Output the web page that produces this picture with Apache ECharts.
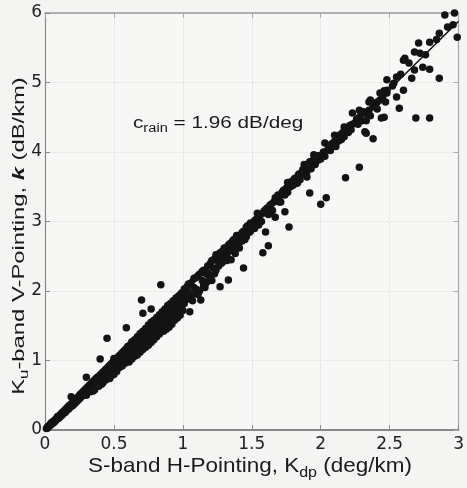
<!DOCTYPE html>
<html>
<head>
<meta charset="utf-8">
<script src="https://cdn.jsdelivr.net/npm/echarts@6/dist/echarts.min.js"></script>
<style>
html,body{margin:0;padding:0;background:#f4f4f2;}
#chart{width:467px;height:488px;}
</style>
</head>
<body>
<div id="chart"></div>
<script>
// Tick labels
const xTicks = [0, 0.5, 1, 1.5, 2, 2.5, 3];
const yTicks = [0, 1, 2, 3, 4, 5, 6];

// Fitted line endpoints (c_rain = 1.96 dB/deg)
const fitKdp = [0, 3];
const fitK = [0, 5.88];

// Scatter points [Kdp, k]
const pointsA = [
[0.01,0.02],[0.02,0.03],[0.02,0.05],[0.03,0.06],[0.04,0.07],[0.04,0.09],[0.05,0.09],[0.05,0.11],
[0.06,0.12],[0.06,0.10],[0.07,0.14],[0.07,0.12],[0.08,0.16],[0.08,0.14],[0.09,0.17],[0.09,0.19],
[0.10,0.20],[0.10,0.17],[0.11,0.22],[0.11,0.19],[0.12,0.24],[0.12,0.21],[0.13,0.26],[0.13,0.23],
[0.14,0.28],[0.14,0.25],[0.15,0.30],[0.15,0.26],[0.16,0.32],[0.16,0.29],[0.17,0.34],[0.17,0.30],
[0.18,0.36],[0.18,0.32],[0.19,0.37],[0.19,0.48],[0.20,0.40],[0.20,0.35],[0.21,0.42],[0.21,0.37],
[0.22,0.44],[0.22,0.39],[0.23,0.46],[0.23,0.41],[0.24,0.47],[0.24,0.43],[0.25,0.50],[0.25,0.45]
];
const pointsB = [
[0.26,0.52],[0.26,0.47],[0.27,0.54],[0.27,0.49],[0.28,0.56],[0.28,0.50],[0.29,0.58],[0.29,0.52],
[0.30,0.60],[0.30,0.54],[0.30,0.76],[0.30,0.50],[0.31,0.62],[0.31,0.56],[0.32,0.64],[0.32,0.58],
[0.33,0.66],[0.33,0.59],[0.33,0.55],[0.34,0.68],[0.34,0.61],[0.35,0.70],[0.35,0.63],[0.35,0.56],
[0.36,0.72],[0.36,0.65],[0.36,0.58],[0.37,0.74],[0.37,0.66],[0.38,0.76],[0.38,0.69],[0.39,0.77],
[0.39,0.70],[0.39,0.63],[0.40,0.79],[0.40,0.72],[0.40,1.02],[0.41,0.81],[0.41,0.74],[0.41,0.66],
[0.42,0.83],[0.42,0.75],[0.42,0.68],[0.43,0.85],[0.43,0.77],[0.44,0.87],[0.44,0.79],[0.44,0.72],
[0.45,0.89],[0.45,0.81],[0.45,1.32],[0.46,0.91],[0.46,0.83],[0.46,0.76],[0.47,0.93],[0.47,0.84],
[0.47,0.74],[0.48,0.95],[0.48,0.86],[0.48,0.78],[0.49,0.97],[0.49,0.88],[0.50,0.99],[0.50,0.90],
[0.50,0.80],[0.50,1.03]
];
const pointsC = [
[0.51,1.01],[0.51,0.93],[0.52,1.03],[0.52,0.95],[0.52,0.84],[0.53,1.05],[0.53,0.97],[0.54,1.07],
[0.54,0.90],[0.55,1.09],[0.55,1.00],[0.56,1.11],[0.56,0.92],[0.57,1.13],[0.57,1.04],[0.58,1.15],
[0.58,0.96],[0.59,1.17],[0.59,1.08],[0.59,1.47],[0.60,1.20],[0.60,1.01],[0.61,1.12],[0.61,0.98],
[0.62,1.23],[0.62,1.07],[0.63,1.27],[0.63,1.02],[0.64,1.18],[0.64,1.11],[0.65,1.30],[0.65,1.06],
[0.66,1.24],[0.66,1.14],[0.67,1.34],[0.67,1.08],[0.68,1.28],[0.68,1.18],[0.69,1.39],[0.69,1.12],
[0.70,1.31],[0.70,1.87],[0.70,1.22],[0.71,1.42],[0.71,1.68],[0.71,1.16],[0.72,1.34],[0.72,1.26],
[0.73,1.46],[0.73,1.19],[0.74,1.38],[0.74,1.29],[0.75,1.51],[0.75,1.22],[0.76,1.42],[0.76,1.33],
[0.77,1.55],[0.77,1.74],[0.77,1.26],[0.78,1.45],[0.78,1.36],[0.79,1.58],[0.79,1.30],[0.80,1.49],
[0.80,1.40],[0.81,1.62],[0.81,1.34],[0.82,1.53],[0.82,1.44],[0.83,1.66],[0.83,1.38],[0.84,2.09],
[0.84,1.57],[0.85,1.70],[0.85,1.48],[0.86,1.61],[0.86,1.42],[0.87,1.74],[0.87,1.52],[0.88,1.65],
[0.88,1.45],[0.89,1.79],[0.89,1.56],[0.90,1.69],[0.90,1.48],[0.91,1.82],[0.91,1.60],[0.92,1.73],
[0.92,1.52],[0.93,1.86],[0.93,1.64],[0.94,1.77],[0.94,1.58],[0.95,1.90],[0.95,1.68],[0.96,1.80],
[0.96,1.61],[0.97,1.93],[0.97,1.71],[0.98,1.85],[0.98,1.65],[0.99,1.97],[0.99,1.76],[1.00,1.89],
[1.00,1.72]
];
const pointsD = [
[1.01,2.03],[1.02,1.91],[1.03,2.06],[1.04,1.98],[1.05,1.70],[1.06,2.12],[1.07,1.86],[1.08,2.05],
[1.09,2.19],[1.10,2.02],[1.11,1.95],[1.12,2.24],[1.13,1.87],[1.14,2.15],[1.15,2.30],[1.16,2.05],
[1.17,2.25],[1.18,2.36],[1.19,2.20],[1.20,2.40],[1.21,2.15],[1.22,2.33],[1.23,2.46],[1.24,2.30],
[1.25,2.44],[1.26,2.52],[1.27,2.06],[1.28,2.40],[1.29,2.58],[1.30,2.48],[1.31,2.62],[1.32,2.52],
[1.33,2.16],[1.34,2.68],[1.35,2.45],[1.36,2.60],[1.37,2.74],[1.38,2.64],[1.40,2.80],[1.41,2.70],
[1.42,2.78],[1.44,2.33],[1.44,2.86],[1.45,2.74],[1.47,2.94],[1.48,2.84],[1.49,2.98],[1.50,2.90],
[1.01,1.82],[1.03,1.88],[1.04,2.10],[1.06,1.92],[1.08,2.18],[1.09,1.96],[1.11,2.22],[1.12,2.00],
[1.14,2.28],[1.15,2.08],[1.17,2.12],[1.18,2.26],[1.20,2.18],[1.21,2.44],[1.23,2.25],[1.24,2.52],
[1.26,2.36],[1.27,2.55],[1.29,2.42],[1.30,2.62],[1.32,2.44],[1.33,2.66],[1.35,2.58],[1.36,2.72],
[1.38,2.54],[1.39,2.80],[1.41,2.62],[1.43,2.84],[1.43,2.72],[1.46,2.78],[1.46,2.92],[1.49,2.86]
];
const pointsE = [
[1.51,2.98],[1.52,3.01],[1.52,2.90],[1.53,3.03],[1.54,3.12],[1.55,3.05],[1.55,2.95],[1.56,3.09],
[1.57,3.00],[1.58,3.12],[1.58,2.55],[1.59,3.15],[1.60,3.17],[1.60,2.85],[1.61,3.19],[1.62,3.10],
[1.62,2.65],[1.63,3.23],[1.63,3.12],[1.64,3.25],[1.65,3.16],[1.66,3.28],[1.67,3.34],[1.67,3.06],
[1.68,3.30],[1.69,3.38],[1.70,3.36],[1.70,3.28],[1.71,3.28],[1.72,3.42],[1.73,3.45],[1.74,3.14],
[1.74,3.38],[1.75,3.48],[1.76,3.42],[1.76,3.56],[1.77,2.92],[1.77,3.54],[1.78,3.50],[1.79,3.58],
[1.80,3.52],[1.81,3.62],[1.82,3.57],[1.83,3.64],[1.83,3.55],[1.84,3.68],[1.85,3.60],[1.86,3.70],
[1.87,3.75],[1.88,3.68],[1.88,3.82],[1.89,3.78],[1.90,3.72],[1.90,3.64],[1.91,3.81],[1.92,3.41],
[1.92,3.86],[1.93,3.76],[1.94,3.84],[1.95,3.90],[1.95,3.96],[1.96,3.82],[1.97,3.92],[1.98,3.88],
[1.99,3.95],[2.00,3.25],[2.00,3.90],[2.04,3.34]
];
const pointsF = [
[2.02,4.00],[2.03,3.94],[2.03,4.13],[2.05,4.03],[2.06,4.08],[2.07,4.02],[2.08,4.12],[2.09,4.10],
[2.10,4.15],[2.10,4.24],[2.11,4.08],[2.12,4.20],[2.13,4.16],[2.14,4.25],[2.15,4.18],[2.16,4.28],
[2.17,4.22],[2.17,4.36],[2.18,3.63],[2.18,4.30],[2.19,4.35],[2.20,4.28],[2.21,4.38],[2.22,4.32],
[2.23,4.56],[2.23,4.40],[2.25,4.42],[2.26,4.47],[2.26,4.43],[2.27,4.40],[2.28,3.78],[2.28,4.60],
[2.28,4.50],[2.30,4.45],[2.30,4.56],[2.31,4.58],[2.32,4.29],[2.33,4.55],[2.33,4.45],[2.33,4.27],
[2.35,4.72],[2.35,4.60],[2.36,4.52],[2.36,4.75],[2.38,4.19],[2.38,4.65],[2.40,4.70],[2.41,4.62],
[2.41,4.72],[2.43,4.75],[2.43,4.85],[2.44,4.49],[2.45,4.80],[2.46,4.88],[2.46,4.50],[2.47,4.72],
[2.48,4.85],[2.48,5.04],[2.48,4.89]
];
const pointsG = [
[2.52,4.95],[2.53,4.99],[2.55,5.08],[2.55,4.79],[2.57,4.63],[2.58,5.12],[2.60,5.32],[2.60,4.89],
[2.61,5.35],[2.64,5.28],[2.66,5.06],[2.68,5.44],[2.68,5.18],[2.69,4.49],[2.71,5.57],[2.72,5.42],
[2.74,5.22],[2.76,5.40],[2.79,5.58],[2.79,5.19],[2.79,4.49],[2.84,5.62],[2.86,5.71],[2.86,5.06],
[2.90,5.97],[2.92,5.80],[2.96,5.83],[2.97,6.00],[2.99,5.65]
];

const points = [].concat(pointsA, pointsB, pointsC, pointsD, pointsE, pointsF, pointsG);

const chart = echarts.init(document.getElementById('chart'), null, {renderer: 'canvas'});

const grid = {left: 45, right: 5, top: 13, bottom: 58};
const tickFont = {fontFamily: 'DejaVu Sans', fontSize: 17, color: '#222'};

chart.setOption({
  backgroundColor: '#f4f4f2',
  animation: false,
  grid: Object.assign({backgroundColor: '#f7f7f5', show: true, borderWidth: 0}, grid),
  xAxis: [{
    type: 'value', min: xTicks[0], max: xTicks[xTicks.length - 1], interval: 0.5,
    position: 'bottom',
    axisLine: {show: true, onZero: false, lineStyle: {color: '#666', width: 1.5}},
    axisTick: {show: true, inside: true, length: 5, lineStyle: {color: '#888'}},
    axisLabel: Object.assign({margin: 6}, tickFont),
    splitLine: {show: true, lineStyle: {type: 'dotted', color: '#dcdcdc'}}
  }, {
    type: 'value', min: xTicks[0], max: xTicks[xTicks.length - 1], interval: 0.5,
    position: 'top',
    axisLine: {show: true, onZero: false, lineStyle: {color: '#9a9a9a', width: 1.5}},
    axisTick: {show: true, inside: true, length: 5, lineStyle: {color: '#aaa'}},
    axisLabel: {show: false},
    splitLine: {show: false}
  }],
  yAxis: [{
    type: 'value', min: yTicks[0], max: yTicks[yTicks.length - 1], interval: 1,
    position: 'left',
    axisLine: {show: true, onZero: false, lineStyle: {color: '#888', width: 1.2}},
    axisTick: {show: true, inside: true, length: 5, lineStyle: {color: '#888'}},
    axisLabel: Object.assign({margin: 3}, tickFont),
    splitLine: {show: true, lineStyle: {type: 'dotted', color: '#dcdcdc'}}
  }, {
    type: 'value', min: yTicks[0], max: yTicks[yTicks.length - 1], interval: 1,
    position: 'right',
    axisLine: {show: true, onZero: false, lineStyle: {color: '#a8a8a8', width: 1.2}},
    axisTick: {show: true, inside: true, length: 5, lineStyle: {color: '#aaa'}},
    axisLabel: {show: false},
    splitLine: {show: false}
  }],
  series: [{
    type: 'scatter',
    xAxisIndex: 0, yAxisIndex: 0,
    data: points,
    symbolSize: 7.5,
    itemStyle: {color: '#141414', opacity: 1},
    clip: true,
    z: 2
  }, {
    type: 'line',
    xAxisIndex: 0, yAxisIndex: 0,
    data: fitKdp.map((x, i) => [x, fitK[i]]),
    symbol: 'none',
    lineStyle: {color: '#111', width: 1.5},
    z: 3
  }],
  graphic: [{
    type: 'text', x: 133, y: 123, scaleX: 1.22, z: 10,
    style: {
      text: 'c{sub|rain} = 1.96 dB/deg',
      font: '17px "Liberation Sans"', fill: '#1a1a1a',
      align: 'left', verticalAlign: 'middle',
      rich: {sub: {fontSize: 12, fontFamily: 'Liberation Sans', fill: '#1a1a1a', padding: [11, 0, 0, 0]}}
    }
  }, {
    type: 'text', x: 250, y: 466, scaleX: 1.07, z: 10,
    style: {
      text: 'S-band H-Pointing, K{sub|dp} (deg/km)',
      font: '21px "Liberation Sans"', fill: '#1a1a1a',
      align: 'center', verticalAlign: 'middle',
      rich: {sub: {fontSize: 15, fontFamily: 'Liberation Sans', fill: '#1a1a1a', padding: [14, 0, 0, 0]}}
    }
  }, {
    type: 'text', x: 19, y: 236, rotation: Math.PI / 2, scaleX: 1.4, z: 10,
    style: {
      text: 'K{sub|u}-band V-Pointing, {kb|k} (dB/km)',
      font: '17px "Liberation Sans"', fill: '#1a1a1a',
      align: 'center', verticalAlign: 'middle',
      rich: {
        sub: {fontSize: 12, fontFamily: 'Liberation Sans', fill: '#1a1a1a', padding: [11, 0, 0, 0]},
        kb: {fontSize: 17, fontFamily: 'Liberation Sans', fontStyle: 'italic', fontWeight: 'bold', fill: '#1a1a1a'}
      }
    }
  }]
});
</script>
</body>
</html>
